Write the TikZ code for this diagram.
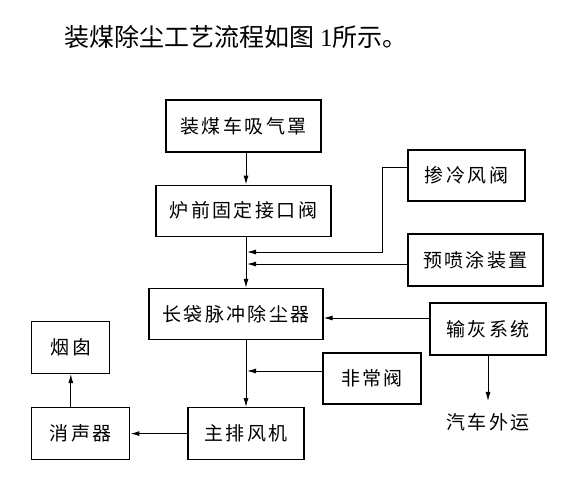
\documentclass[tikz,border=0pt]{standalone}
\usepackage{fontspec}
\setmainfont{Noto Sans CJK SC}
\newfontfamily\boxfont[LetterSpace=13]{Noto Sans CJK SC}
\newfontfamily\numfont{Liberation Serif}
\usetikzlibrary{arrows.meta, positioning}

\begin{document}
\begin{tikzpicture}[x=1pt, y=-1pt,
    box/.style={draw, rectangle, line width=1.2pt, align=center, inner sep=0pt,
        font=\boxfont\fontsize{19}{22}\selectfont},
    plain/.style={inner sep=0pt, font=\boxfont\fontsize{19}{22}\selectfont},
    arrow/.style={-{Latex[length=9pt,width=5pt]}, line width=1pt}
]
\useasboundingbox (0,0) rectangle (567,491);

\node[anchor=west, font=\fontsize{25}{28}\selectfont] (title) at (61,37) {装煤除尘工艺流程如图 {\numfont 1}所示。};

% main line
\node[box, minimum width=155pt, minimum height=52pt] (hood) at (243.5,126) {装煤车吸气罩};
\node[box, minimum width=175pt, minimum height=51pt, below=32pt of hood] (valve) {炉前固定接口阀};
\node[box, minimum width=174pt, minimum height=51pt, below=51pt of valve, xshift=-7.5pt] (filter) {长袋脉冲除尘器};
\node[box, minimum width=116pt, minimum height=52pt, below=67pt of filter, xshift=10pt] (fan) {主排风机};
\node[box, minimum width=98pt, minimum height=52pt, left=57pt of fan] (muffler) {消声器};
\node[box, minimum width=78pt, minimum height=52pt, above=33pt of muffler, xshift=-10pt] (stack) {烟囱};

% side units
\node[box, minimum width=117pt, minimum height=51pt] (cold) at (466.5,175.5) {掺冷风阀};
\node[box, minimum width=135pt, minimum height=52pt] (spray) at (475.5,260) {预喷涂装置};
\node[box, minimum width=116pt, minimum height=52pt] (ash) at (488,329) {输灰系统};
\node[box, minimum width=98pt, minimum height=51pt] (bypass) at (372,378.5) {非常阀};
\node[plain] (truck) at (488,422) {汽车外运};

\coordinate (axis) at (246,0);
\coordinate (bend) at (382,252);
\coordinate (j1) at (247,252);
\coordinate (j2) at (247,264);
\coordinate (j3) at (247,371);

\draw[arrow] (hood.south -| axis) -- (valve.north -| axis);
\draw[arrow] (valve.south -| axis) -- (filter.north -| axis);
\draw[arrow] (filter.south -| axis) -- (fan.north);
\draw[arrow] (fan) -- (muffler);
\draw[arrow] (muffler.north -| stack) -- (stack.south);

\draw[arrow] ([yshift=8.5pt]cold.west) -| (bend) -- (j1);
\draw[arrow] (spray.west |- j2) -- (j2);
\draw[arrow] ([yshift=11pt]ash.west) coordinate (a1) -- (a1 -| filter.east);
\draw[arrow] (bypass.west |- j3) -- (j3);
\draw[arrow] (ash) -- ([yshift=12pt]truck.north);

\end{tikzpicture}
\end{document}
